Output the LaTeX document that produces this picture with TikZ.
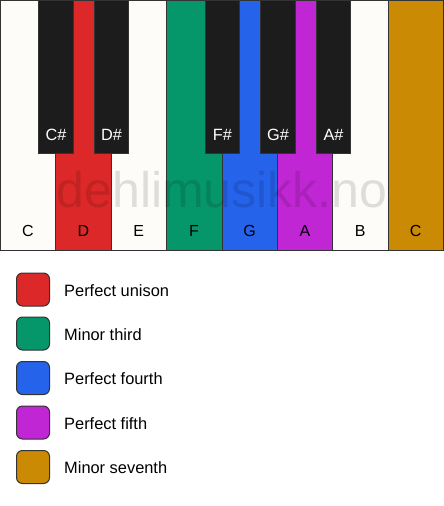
\documentclass[tikz,border=0pt]{standalone}
\usepackage{fontspec}
\setmainfont{Liberation Sans}
\definecolor{kwhite}{HTML}{FDFCF8}
\definecolor{kblack}{HTML}{1C1C1C}
\definecolor{kred}{HTML}{DC2828}
\definecolor{kgreen}{HTML}{05966A}
\definecolor{kblue}{HTML}{2563EB}
\definecolor{kpurple}{HTML}{C026D3}
\definecolor{kgold}{HTML}{CA8A04}
\definecolor{kedge}{HTML}{333333}
\begin{document}
\begin{tikzpicture}[x=1pt,y=-1pt,
  wkey/.style={draw=kedge,line width=1pt},
  bkey/.style={draw=kedge,fill=kblack,line width=0.8pt},
  wlab/.style={font=\fontsize{16}{19}\selectfont,text=black,anchor=base,inner sep=0pt},
  blab/.style={font=\fontsize{16.3}{19}\selectfont,text=white,anchor=base,inner sep=0pt},
  swatch/.style={draw=kedge,line width=1pt,rounded corners=6pt,minimum size=33pt,inner sep=0pt},
  ltext/.style={font=\fontsize{16.4}{19}\selectfont,anchor=base west,inner sep=0pt}]
\useasboundingbox (0,0) rectangle (444,506);
\fill[white] (0,0) rectangle (444,506);
% white keys
\foreach \i/\c/\n in {0/kwhite/C,1/kred/D,2/kwhite/E,3/kgreen/F,4/kblue/G,5/kpurple/A,6/kwhite/B,7/kgold/C}{
  \path[wkey,fill=\c] ({\i*55.375+0.5},0.5) rectangle ({(\i+1)*55.375+0.5},250);
  \node[wlab] (w\i) at ({\i*55.375+28},236) {\n};
}
% watermark
\node[font=\fontsize{50}{60}\selectfont,text=black,opacity=0.12,anchor=base,inner sep=0pt] (wm) at (222,207) {dehlimusikk.no};
% black keys
\foreach \x/\n/\m in {38.5/C\#/cs,94/D\#/ds,205/F\#/fs,260.5/G\#/gs,316/A\#/as}{
  \path[bkey] (\x,0.5) rectangle (\x+34.5,153.5);
  \node[blab] (\m) at (\x+17.5,140) {\n};
}
% legend
\foreach \y/\c/\t/\m in {289.5/kred/Perfect unison/l1,333.5/kgreen/Minor third/l2,378/kblue/Perfect fourth/l3,422.5/kpurple/Perfect fifth/l4,467/kgold/Minor seventh/l5}{
  \node[swatch,fill=\c] (\m) at (33,\y) {};
  \node[ltext] (\m t) at (64,\y+6.5) {\t};
}
\end{tikzpicture}
\end{document}
